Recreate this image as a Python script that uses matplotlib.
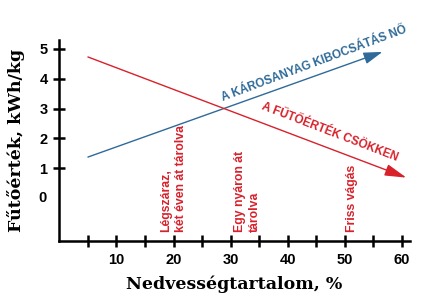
import matplotlib.pyplot as plt

# data
x_ticks = [5, 10, 15, 20, 25, 30, 35, 40, 45, 50, 55, 60]
x_labels = ["", "10", "", "20", "", "30", "", "40", "", "50", "", "60"]
y_ticks = [1, 2, 3, 4, 5]
emission_x = [5, 56.6]
emission_y = [1.37, 4.9]
heating_x = [5, 60.8]
heating_y = [4.73, 0.68]
stage_x = [20, 33, 51.3]
stage_labels = ["Légszáraz,\nkét éven át tárolva", "Egy nyáron át\ntárolva", "Friss vágás"]

blue = "#2f6a98"
red = "#d7212b"

fig = plt.figure(figsize=(4.38, 2.94), dpi=100)
ax = fig.add_axes([0.1356, 0.180, 0.800, 0.684])
ax.set_xlim(0, 61.4)
ax.set_ylim(-1.45, 5.3)

for s in ["top", "right"]:
    ax.spines[s].set_visible(False)
for s in ["left", "bottom"]:
    ax.spines[s].set_linewidth(1.8)

ax.set_xticks(x_ticks)
ax.set_xticklabels(x_labels)
ax.set_yticks(y_ticks)
ax.tick_params(direction="inout", length=9, width=1.8, labelsize=10.5, pad=4)
for lab in ax.get_xticklabels() + ax.get_yticklabels():
    lab.set_fontweight("bold")
    lab.set_family("Liberation Sans")
# "0" label without a tick
ax.text(-2.2, 0, "0", ha="right", va="center", fontsize=10.5, fontweight="bold",
        family="Liberation Sans")

ax.annotate("", xy=(emission_x[1], emission_y[1]), xytext=(emission_x[0], emission_y[0]),
            arrowprops=dict(arrowstyle="-|>,head_length=0.95,head_width=0.3", color=blue,
                            lw=1.0, mutation_scale=12, shrinkA=0, shrinkB=0))
ax.annotate("", xy=(heating_x[1], heating_y[1]), xytext=(heating_x[0], heating_y[0]),
            arrowprops=dict(arrowstyle="-|>,head_length=1.1,head_width=0.3", color=red,
                            lw=1.0, mutation_scale=12, shrinkA=0, shrinkB=0))

ax.text(44.7, 4.5, "A KÁROSANYAG KIBOCSÁTÁS NŐ", color=blue, fontsize=8.5,
        fontweight="bold", family="Liberation Sans", rotation=20.5,
        rotation_mode="anchor", ha="center", va="center")
ax.text(47.3, 2.21, "A FŰTŐÉRTÉK CSÖKKEN", color=red, fontsize=8.5,
        fontweight="bold", family="Liberation Sans", rotation=-21,
        rotation_mode="anchor", ha="center", va="center")

for x, lab in zip(stage_x, stage_labels):
    ax.text(x, -1.15, lab, color=red, fontsize=8.8, fontweight="bold",
            family="Liberation Sans", rotation=90, rotation_mode="anchor",
            ha="left", va="center", linespacing=1.3)

ax.set_ylabel("Fűtőérték, kWh/kg", fontsize=12.5, fontweight="bold",
              family="DejaVu Serif", labelpad=10)
ax.set_xlabel("Nedvességtartalom, %", fontsize=12.5, fontweight="bold",
              family="DejaVu Serif", labelpad=6)

fig.savefig("out.png", dpi=100)
